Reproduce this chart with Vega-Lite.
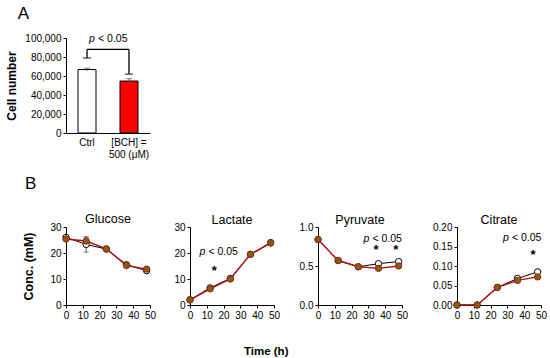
{
  "$schema": "https://vega.github.io/schema/vega-lite/v6.json",
  "padding": {"left": 5, "top": 5, "right": 2, "bottom": 3},
  "background": "white",
  "config": {
    "font": "Liberation Sans",
    "view": {"stroke": null},
    "axis": {"domainColor": "black", "tickColor": "black", "labelColor": "black", "grid": false, "labelFont": "Liberation Sans", "labelFontSize": 10, "tickSize": 3, "labelPadding": 2, "labelOverlap": false, "labelFlush": false, "labelBound": false, "titleColor": "black", "titleFont": "Liberation Sans", "titleFontWeight": "bold", "titleFontSize": 12.5},
    "title": {"font": "Liberation Sans", "fontWeight": "normal", "color": "black"}
  },
  "datasets": {
    "cells": [
      {"group": "Ctrl", "cells": 66800, "lo": 65300, "hi": 68300},
      {"group": "BCH", "cells": 54700, "lo": 52500, "hi": 57200}
    ],
    "bracket": [
      {"group": "Ctrl", "end": 79000, "top": 88000},
      {"group": "BCH", "end": 62000, "top": 88000}
    ],
    "bracketTop": [{"from": "Ctrl", "to": "BCH", "top": 88000, "label": 99000}],
    "panelLabel": [{"label": "B"}],
    "conc": [
      {"metabolite": "Glucose", "group": "Ctrl", "time": 0, "value": 26.0},
      {"metabolite": "Glucose", "group": "Ctrl", "time": 12, "value": 23.3, "lo": 20.3, "hi": 26.3},
      {"metabolite": "Glucose", "group": "Ctrl", "time": 24, "value": 21.5},
      {"metabolite": "Glucose", "group": "Ctrl", "time": 36, "value": 15.5},
      {"metabolite": "Glucose", "group": "Ctrl", "time": 48, "value": 13.2},
      {"metabolite": "Glucose", "group": "BCH", "time": 0, "value": 25.4},
      {"metabolite": "Glucose", "group": "BCH", "time": 12, "value": 24.6, "lo": 23.1, "hi": 26.1},
      {"metabolite": "Glucose", "group": "BCH", "time": 24, "value": 21.6},
      {"metabolite": "Glucose", "group": "BCH", "time": 36, "value": 15.2},
      {"metabolite": "Glucose", "group": "BCH", "time": 48, "value": 13.8},
      {"metabolite": "Lactate", "group": "Ctrl", "time": 0, "value": 2.0},
      {"metabolite": "Lactate", "group": "Ctrl", "time": 12, "value": 6.6},
      {"metabolite": "Lactate", "group": "Ctrl", "time": 24, "value": 10.2},
      {"metabolite": "Lactate", "group": "Ctrl", "time": 36, "value": 19.5},
      {"metabolite": "Lactate", "group": "Ctrl", "time": 48, "value": 24.0},
      {"metabolite": "Lactate", "group": "BCH", "time": 0, "value": 2.0},
      {"metabolite": "Lactate", "group": "BCH", "time": 12, "value": 6.2},
      {"metabolite": "Lactate", "group": "BCH", "time": 24, "value": 10.0},
      {"metabolite": "Lactate", "group": "BCH", "time": 36, "value": 19.5},
      {"metabolite": "Lactate", "group": "BCH", "time": 48, "value": 23.8},
      {"metabolite": "Pyruvate", "group": "Ctrl", "time": 0, "value": 0.84},
      {"metabolite": "Pyruvate", "group": "Ctrl", "time": 12, "value": 0.57},
      {"metabolite": "Pyruvate", "group": "Ctrl", "time": 24, "value": 0.49},
      {"metabolite": "Pyruvate", "group": "Ctrl", "time": 36, "value": 0.53},
      {"metabolite": "Pyruvate", "group": "Ctrl", "time": 48, "value": 0.557},
      {"metabolite": "Pyruvate", "group": "BCH", "time": 0, "value": 0.84},
      {"metabolite": "Pyruvate", "group": "BCH", "time": 12, "value": 0.57},
      {"metabolite": "Pyruvate", "group": "BCH", "time": 24, "value": 0.49},
      {"metabolite": "Pyruvate", "group": "BCH", "time": 36, "value": 0.47},
      {"metabolite": "Pyruvate", "group": "BCH", "time": 48, "value": 0.50},
      {"metabolite": "Citrate", "group": "Ctrl", "time": 0, "value": 0.0},
      {"metabolite": "Citrate", "group": "Ctrl", "time": 12, "value": 0.0},
      {"metabolite": "Citrate", "group": "Ctrl", "time": 24, "value": 0.045},
      {"metabolite": "Citrate", "group": "Ctrl", "time": 36, "value": 0.068},
      {"metabolite": "Citrate", "group": "Ctrl", "time": 48, "value": 0.085},
      {"metabolite": "Citrate", "group": "BCH", "time": 0, "value": 0.0},
      {"metabolite": "Citrate", "group": "BCH", "time": 12, "value": 0.0},
      {"metabolite": "Citrate", "group": "BCH", "time": 24, "value": 0.045},
      {"metabolite": "Citrate", "group": "BCH", "time": 36, "value": 0.063},
      {"metabolite": "Citrate", "group": "BCH", "time": 48, "value": 0.072}
    ],
    "notes": [
      {"metabolite": "Lactate", "kind": "p", "x": 10.1, "y": 20.5},
      {"metabolite": "Lactate", "kind": "star", "x": 14.5, "y": 13.0},
      {"metabolite": "Pyruvate", "kind": "p", "x": 31.5, "y": 0.85},
      {"metabolite": "Pyruvate", "kind": "star", "x": 34.5, "y": 0.70},
      {"metabolite": "Pyruvate", "kind": "star", "x": 46.3, "y": 0.70},
      {"metabolite": "Citrate", "kind": "p", "x": 31.8, "y": 0.171},
      {"metabolite": "Citrate", "kind": "star", "x": 45.2, "y": 0.128}
    ]
  },
  "title": {"text": "Time (h)", "orient": "bottom", "anchor": "middle", "fontWeight": "bold", "fontSize": 11.5, "offset": 26, "dx": -10},
  "columns": 4,
  "align": "each",
  "spacing": {"row": 16, "column": 0},
  "concat": [
    {
      "width": 84, "height": 95,
      "title": {"text": "A", "anchor": "start", "frame": "bounds", "fontSize": 17, "dx": 12, "offset": 10},
      "layer": [
        {
          "data": {"name": "cells"},
          "mark": {"type": "bar", "size": 18, "stroke": "black", "strokeWidth": 1},
          "encoding": {
            "x": {"field": "group", "type": "nominal", "sort": ["Ctrl", "BCH"], "scale": {"domain": ["Ctrl", "BCH"], "paddingInner": 0, "paddingOuter": 0},
                  "axis": {"title": null, "labelAngle": 0, "ticks": false, "labelPadding": 4, "labelExpr": "datum.value == 'BCH' ? ['[BCH] =', '500 (μM)'] : 'Ctrl'"}},
            "y": {"field": "cells", "type": "quantitative", "scale": {"domain": [0, 100000]},
                  "axis": {"title": "Cell number", "titleFontSize": 12, "values": [0, 20000, 40000, 60000, 80000, 100000], "tickCount": 20, "labelExpr": "format(datum.value, ',')", "titlePadding": 6}},
            "fill": {"field": "group", "type": "nominal", "scale": {"domain": ["Ctrl", "BCH"], "range": ["white", "#FF0000"]}, "legend": null}
          }
        },
        {
          "data": {"name": "cells"},
          "mark": {"type": "rule", "color": "#555555", "strokeWidth": 1},
          "encoding": {"x": {"field": "group", "type": "nominal"}, "y": {"field": "lo", "type": "quantitative"}, "y2": {"field": "hi"}}
        },
        {
          "data": {"name": "cells"},
          "mark": {"type": "tick", "color": "#555555", "size": 6, "thickness": 1},
          "encoding": {"x": {"field": "group", "type": "nominal"}, "y": {"field": "hi", "type": "quantitative"}}
        },
        {
          "data": {"name": "bracket"},
          "mark": {"type": "rule", "color": "black", "strokeWidth": 1.3},
          "encoding": {"x": {"field": "group", "type": "nominal"}, "y": {"field": "end", "type": "quantitative"}, "y2": {"field": "top"}}
        },
        {
          "data": {"name": "bracket"},
          "mark": {"type": "tick", "color": "black", "size": 8, "thickness": 1.3},
          "encoding": {"x": {"field": "group", "type": "nominal"}, "y": {"field": "end", "type": "quantitative"}}
        },
        {
          "data": {"name": "bracketTop"},
          "mark": {"type": "rule", "color": "black", "strokeWidth": 1.3},
          "encoding": {"x": {"field": "from", "type": "nominal"}, "x2": {"field": "to"}, "y": {"field": "top", "type": "quantitative"}}
        },
        {
          "data": {"name": "bracketTop"},
          "mark": {"type": "text", "text": "p", "fontStyle": "italic", "fontSize": 10.5, "align": "left", "baseline": "middle", "dx": 2, "color": "black"},
          "encoding": {"x": {"field": "from", "type": "nominal"}, "y": {"field": "label", "type": "quantitative"}}
        },
        {
          "data": {"name": "bracketTop"},
          "mark": {"type": "text", "text": "< 0.05", "fontSize": 10.5, "align": "left", "baseline": "middle", "dx": 11, "color": "black"},
          "encoding": {"x": {"field": "from", "type": "nominal"}, "y": {"field": "label", "type": "quantitative"}}
        }
      ]
    },
    {"width": 1, "height": 1, "data": {"name": "cells"}, "mark": {"type": "point", "opacity": 0, "size": 1}},
    {"width": 1, "height": 1, "data": {"name": "cells"}, "mark": {"type": "point", "opacity": 0, "size": 1}},
    {"width": 1, "height": 1, "data": {"name": "cells"}, "mark": {"type": "point", "opacity": 0, "size": 1}},
    {
      "width": 84, "height": 78,
      "title": {"text": "Glucose", "fontSize": 12.5, "offset": -4, "dy": 46},
      "layer": [
        {
          "data": {"name": "conc"},
          "transform": [{"filter": "datum.metabolite == 'Glucose' && isValid(datum.lo)"}],
          "mark": {"type": "rule", "color": "#555555", "strokeWidth": 1},
          "encoding": {
            "x": {"field": "time", "type": "quantitative", "scale": {"domain": [0, 50]}, "axis": {"title": null, "values": [0, 10, 20, 30, 40, 50], "tickCount": 20}},
            "y": {"field": "lo", "type": "quantitative", "scale": {"domain": [0, 30]}, "axis": {"title": "Conc. (mM)", "values": [0, 10, 20, 30], "tickCount": 20, "titlePadding": 14}},
            "y2": {"field": "hi"}
          }
        },
        {
          "data": {"name": "conc"},
          "transform": [{"filter": "datum.metabolite == 'Glucose' && isValid(datum.lo)"}],
          "mark": {"type": "tick", "color": "#555555", "size": 5, "thickness": 1, "orient": "horizontal"},
          "encoding": {"x": {"field": "time", "type": "quantitative"}, "y": {"field": "lo", "type": "quantitative"}}
        },
        {
          "data": {"name": "conc"},
          "transform": [{"filter": "datum.metabolite == 'Glucose' && isValid(datum.lo)"}],
          "mark": {"type": "tick", "color": "#555555", "size": 5, "thickness": 1, "orient": "horizontal"},
          "encoding": {"x": {"field": "time", "type": "quantitative"}, "y": {"field": "hi", "type": "quantitative"}}
        },
        {
          "data": {"name": "conc"},
          "transform": [{"filter": "datum.metabolite == 'Glucose' && datum.group == 'Ctrl'"}],
          "mark": {"type": "line", "color": "black", "strokeWidth": 1},
          "encoding": {"x": {"field": "time", "type": "quantitative"}, "y": {"field": "value", "type": "quantitative"}}
        },
        {
          "data": {"name": "conc"},
          "transform": [{"filter": "datum.metabolite == 'Glucose' && datum.group == 'BCH'"}],
          "mark": {"type": "line", "color": "#B01010", "strokeWidth": 1.4},
          "encoding": {"x": {"field": "time", "type": "quantitative"}, "y": {"field": "value", "type": "quantitative"}}
        },
        {
          "data": {"name": "conc"},
          "transform": [{"filter": "datum.metabolite == 'Glucose' && datum.group == 'Ctrl'"}],
          "mark": {"type": "point", "filled": true, "fill": "white", "stroke": "black", "strokeWidth": 1, "size": 40, "opacity": 1},
          "encoding": {"x": {"field": "time", "type": "quantitative"}, "y": {"field": "value", "type": "quantitative"}}
        },
        {
          "data": {"name": "conc"},
          "transform": [{"filter": "datum.metabolite == 'Glucose' && datum.group == 'BCH'"}],
          "mark": {"type": "point", "filled": true, "fill": "#8E5A16", "stroke": "#8A2A10", "strokeWidth": 1, "size": 40, "opacity": 1},
          "encoding": {"x": {"field": "time", "type": "quantitative"}, "y": {"field": "value", "type": "quantitative"}}
        },
        {
          "data": {"name": "panelLabel"},
          "mark": {"type": "text", "fontSize": 17, "align": "center", "baseline": "middle", "color": "black"},
          "encoding": {"text": {"field": "label"}, "x": {"datum": -21, "type": "quantitative"}, "y": {"datum": 46.5, "type": "quantitative"}}
        }
      ]
    },
    {
      "width": 84, "height": 78,
      "title": {"text": "Lactate", "fontSize": 12.5, "offset": -4},
      "layer": [
        {
          "data": {"name": "conc"},
          "transform": [{"filter": "datum.metabolite == 'Lactate' && datum.group == 'Ctrl'"}],
          "mark": {"type": "line", "color": "black", "strokeWidth": 1},
          "encoding": {
            "x": {"field": "time", "type": "quantitative", "scale": {"domain": [0, 50]}, "axis": {"title": null, "values": [0, 10, 20, 30, 40, 50], "tickCount": 20}},
            "y": {"field": "value", "type": "quantitative", "scale": {"domain": [0, 30]}, "axis": {"title": null, "values": [0, 10, 20, 30], "tickCount": 20, "minExtent": 34}}
          }
        },
        {
          "data": {"name": "conc"},
          "transform": [{"filter": "datum.metabolite == 'Lactate' && datum.group == 'BCH'"}],
          "mark": {"type": "line", "color": "#B01010", "strokeWidth": 1.4},
          "encoding": {"x": {"field": "time", "type": "quantitative"}, "y": {"field": "value", "type": "quantitative"}}
        },
        {
          "data": {"name": "conc"},
          "transform": [{"filter": "datum.metabolite == 'Lactate' && datum.group == 'Ctrl'"}],
          "mark": {"type": "point", "filled": true, "fill": "white", "stroke": "black", "strokeWidth": 1, "size": 40, "opacity": 1},
          "encoding": {"x": {"field": "time", "type": "quantitative"}, "y": {"field": "value", "type": "quantitative"}}
        },
        {
          "data": {"name": "conc"},
          "transform": [{"filter": "datum.metabolite == 'Lactate' && datum.group == 'BCH'"}],
          "mark": {"type": "point", "filled": true, "fill": "#8E5A16", "stroke": "#8A2A10", "strokeWidth": 1, "size": 40, "opacity": 1},
          "encoding": {"x": {"field": "time", "type": "quantitative"}, "y": {"field": "value", "type": "quantitative"}}
        },
        {
          "data": {"name": "notes"},
          "transform": [{"filter": "datum.metabolite == 'Lactate' && datum.kind == 'p'"}],
          "mark": {"type": "text", "text": "p", "fontStyle": "italic", "fontSize": 10.5, "align": "right", "baseline": "middle", "dx": -1.5, "color": "black"},
          "encoding": {"x": {"field": "x", "type": "quantitative"}, "y": {"field": "y", "type": "quantitative"}}
        },
        {
          "data": {"name": "notes"},
          "transform": [{"filter": "datum.metabolite == 'Lactate' && datum.kind == 'p'"}],
          "mark": {"type": "text", "text": "< 0.05", "fontSize": 10.5, "align": "left", "baseline": "middle", "dx": 1.5, "color": "black"},
          "encoding": {"x": {"field": "x", "type": "quantitative"}, "y": {"field": "y", "type": "quantitative"}}
        },
        {
          "data": {"name": "notes"},
          "transform": [{"filter": "datum.metabolite == 'Lactate' && datum.kind == 'star'"}],
          "mark": {"type": "text", "text": "*", "fontSize": 13, "fontWeight": "bold", "align": "center", "baseline": "middle", "color": "black"},
          "encoding": {"x": {"field": "x", "type": "quantitative"}, "y": {"field": "y", "type": "quantitative"}}
        }
      ]
    },
    {
      "width": 84, "height": 78,
      "title": {"text": "Pyruvate", "fontSize": 12.5, "offset": -4},
      "layer": [
        {
          "data": {"name": "conc"},
          "transform": [{"filter": "datum.metabolite == 'Pyruvate' && datum.group == 'Ctrl'"}],
          "mark": {"type": "line", "color": "black", "strokeWidth": 1},
          "encoding": {
            "x": {"field": "time", "type": "quantitative", "scale": {"domain": [0, 50]}, "axis": {"title": null, "values": [0, 10, 20, 30, 40, 50], "tickCount": 20}},
            "y": {"field": "value", "type": "quantitative", "scale": {"domain": [0, 1]}, "axis": {"title": null, "values": [0, 0.5, 1], "tickCount": 20, "format": ".1f", "minExtent": 38}}
          }
        },
        {
          "data": {"name": "conc"},
          "transform": [{"filter": "datum.metabolite == 'Pyruvate' && datum.group == 'BCH'"}],
          "mark": {"type": "line", "color": "#B01010", "strokeWidth": 1.4},
          "encoding": {"x": {"field": "time", "type": "quantitative"}, "y": {"field": "value", "type": "quantitative"}}
        },
        {
          "data": {"name": "conc"},
          "transform": [{"filter": "datum.metabolite == 'Pyruvate' && datum.group == 'Ctrl'"}],
          "mark": {"type": "point", "filled": true, "fill": "white", "stroke": "black", "strokeWidth": 1, "size": 40, "opacity": 1},
          "encoding": {"x": {"field": "time", "type": "quantitative"}, "y": {"field": "value", "type": "quantitative"}}
        },
        {
          "data": {"name": "conc"},
          "transform": [{"filter": "datum.metabolite == 'Pyruvate' && datum.group == 'BCH'"}],
          "mark": {"type": "point", "filled": true, "fill": "#8E5A16", "stroke": "#8A2A10", "strokeWidth": 1, "size": 40, "opacity": 1},
          "encoding": {"x": {"field": "time", "type": "quantitative"}, "y": {"field": "value", "type": "quantitative"}}
        },
        {
          "data": {"name": "notes"},
          "transform": [{"filter": "datum.metabolite == 'Pyruvate' && datum.kind == 'p'"}],
          "mark": {"type": "text", "text": "p", "fontStyle": "italic", "fontSize": 10.5, "align": "right", "baseline": "middle", "dx": -1.5, "color": "black"},
          "encoding": {"x": {"field": "x", "type": "quantitative"}, "y": {"field": "y", "type": "quantitative"}}
        },
        {
          "data": {"name": "notes"},
          "transform": [{"filter": "datum.metabolite == 'Pyruvate' && datum.kind == 'p'"}],
          "mark": {"type": "text", "text": "< 0.05", "fontSize": 10.5, "align": "left", "baseline": "middle", "dx": 1.5, "color": "black"},
          "encoding": {"x": {"field": "x", "type": "quantitative"}, "y": {"field": "y", "type": "quantitative"}}
        },
        {
          "data": {"name": "notes"},
          "transform": [{"filter": "datum.metabolite == 'Pyruvate' && datum.kind == 'star'"}],
          "mark": {"type": "text", "text": "*", "fontSize": 13, "fontWeight": "bold", "align": "center", "baseline": "middle", "color": "black"},
          "encoding": {"x": {"field": "x", "type": "quantitative"}, "y": {"field": "y", "type": "quantitative"}}
        }
      ]
    },
    {
      "width": 84, "height": 78,
      "title": {"text": "Citrate", "fontSize": 12.5, "offset": -4},
      "layer": [
        {
          "data": {"name": "conc"},
          "transform": [{"filter": "datum.metabolite == 'Citrate' && datum.group == 'Ctrl'"}],
          "mark": {"type": "line", "color": "black", "strokeWidth": 1},
          "encoding": {
            "x": {"field": "time", "type": "quantitative", "scale": {"domain": [0, 50]}, "axis": {"title": null, "values": [0, 10, 20, 30, 40, 50], "tickCount": 20}},
            "y": {"field": "value", "type": "quantitative", "scale": {"domain": [0, 0.2]}, "axis": {"title": null, "values": [0, 0.05, 0.1, 0.15, 0.2], "tickCount": 20, "format": ".2f", "minExtent": 49}}
          }
        },
        {
          "data": {"name": "conc"},
          "transform": [{"filter": "datum.metabolite == 'Citrate' && datum.group == 'BCH'"}],
          "mark": {"type": "line", "color": "#B01010", "strokeWidth": 1.4},
          "encoding": {"x": {"field": "time", "type": "quantitative"}, "y": {"field": "value", "type": "quantitative"}}
        },
        {
          "data": {"name": "conc"},
          "transform": [{"filter": "datum.metabolite == 'Citrate' && datum.group == 'Ctrl'"}],
          "mark": {"type": "point", "filled": true, "fill": "white", "stroke": "black", "strokeWidth": 1, "size": 40, "opacity": 1},
          "encoding": {"x": {"field": "time", "type": "quantitative"}, "y": {"field": "value", "type": "quantitative"}}
        },
        {
          "data": {"name": "conc"},
          "transform": [{"filter": "datum.metabolite == 'Citrate' && datum.group == 'BCH'"}],
          "mark": {"type": "point", "filled": true, "fill": "#8E5A16", "stroke": "#8A2A10", "strokeWidth": 1, "size": 40, "opacity": 1},
          "encoding": {"x": {"field": "time", "type": "quantitative"}, "y": {"field": "value", "type": "quantitative"}}
        },
        {
          "data": {"name": "notes"},
          "transform": [{"filter": "datum.metabolite == 'Citrate' && datum.kind == 'p'"}],
          "mark": {"type": "text", "text": "p", "fontStyle": "italic", "fontSize": 10.5, "align": "right", "baseline": "middle", "dx": -1.5, "color": "black"},
          "encoding": {"x": {"field": "x", "type": "quantitative"}, "y": {"field": "y", "type": "quantitative"}}
        },
        {
          "data": {"name": "notes"},
          "transform": [{"filter": "datum.metabolite == 'Citrate' && datum.kind == 'p'"}],
          "mark": {"type": "text", "text": "< 0.05", "fontSize": 10.5, "align": "left", "baseline": "middle", "dx": 1.5, "color": "black"},
          "encoding": {"x": {"field": "x", "type": "quantitative"}, "y": {"field": "y", "type": "quantitative"}}
        },
        {
          "data": {"name": "notes"},
          "transform": [{"filter": "datum.metabolite == 'Citrate' && datum.kind == 'star'"}],
          "mark": {"type": "text", "text": "*", "fontSize": 13, "fontWeight": "bold", "align": "center", "baseline": "middle", "color": "black"},
          "encoding": {"x": {"field": "x", "type": "quantitative"}, "y": {"field": "y", "type": "quantitative"}}
        }
      ]
    }
  ]
}
